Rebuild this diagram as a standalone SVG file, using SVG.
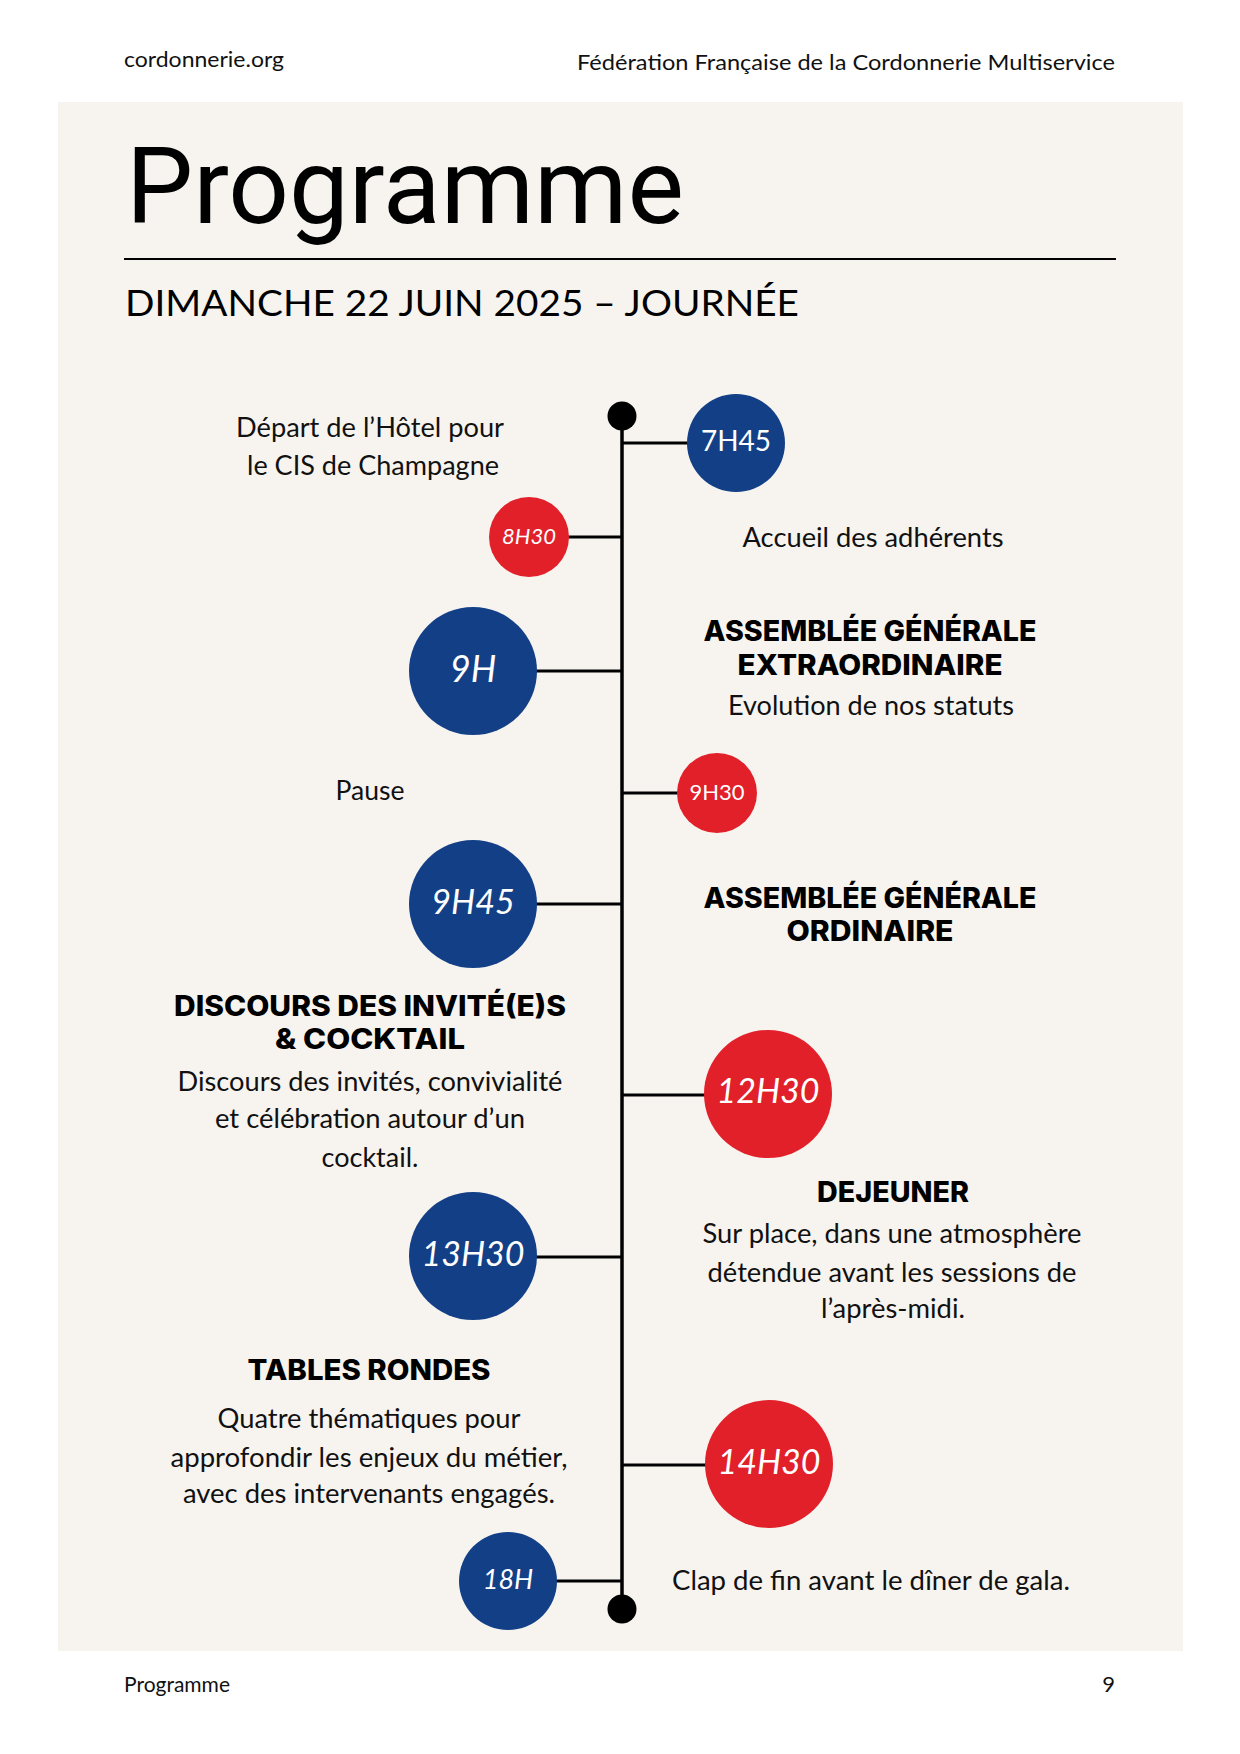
<svg xmlns="http://www.w3.org/2000/svg" width="1240" height="1754" viewBox="0 0 1240 1754">
<style>
.hdr{font-family:Lato,"Liberation Sans",sans-serif;font-size:22px;fill:#111}
.body{font-family:Lato,"Noto Sans",sans-serif;font-size:26px;fill:#111;text-anchor:middle}
.head{font-family:Inter,"Liberation Sans",sans-serif;font-weight:800;font-size:28px;fill:#000;text-anchor:middle}
.t{font-family:Lato,"Noto Sans",sans-serif;fill:#fff;text-anchor:middle}
.it{font-style:italic}
.blue{fill:#133F86}
.red{fill:#E1202A}
.conn line{stroke:#000;stroke-width:3}
</style>
<rect x="0" y="0" width="1240" height="1754" fill="#ffffff"/>
<rect x="58" y="102" width="1125" height="1549" fill="#F7F4F0"/>
<text class="hdr" x="124" y="67" font-size="21" textLength="160" lengthAdjust="spacingAndGlyphs">cordonnerie.org</text>
<text class="hdr" x="1115" y="70" font-size="25" text-anchor="end" textLength="538" lengthAdjust="spacingAndGlyphs">Fédération Française de la Cordonnerie Multiservice</text>
<text x="126" y="223" font-family="Roboto,'Liberation Sans',sans-serif" font-size="106" fill="#000" textLength="558" lengthAdjust="spacingAndGlyphs">Programme</text>
<line x1="124" y1="259" x2="1116" y2="259" stroke="#000" stroke-width="2"/>
<text x="125" y="316" font-family="Lato,'Liberation Sans',sans-serif" font-size="36" fill="#000" textLength="674" lengthAdjust="spacingAndGlyphs">DIMANCHE 22 JUIN 2025 – JOURNÉE</text>
<g id="connectors" class="conn">
<line x1="622" y1="416" x2="622" y2="1609" style="stroke-width:3.5"/>
<line x1="622" y1="443" x2="688" y2="443"/>
<line x1="567" y1="537" x2="622" y2="537"/>
<line x1="535" y1="671" x2="622" y2="671"/>
<line x1="622" y1="793" x2="679" y2="793"/>
<line x1="534" y1="904" x2="622" y2="904"/>
<line x1="622" y1="1095" x2="706" y2="1095"/>
<line x1="535" y1="1257" x2="622" y2="1257"/>
<line x1="622" y1="1465" x2="707" y2="1465"/>
<line x1="555" y1="1581" x2="622" y2="1581"/>
<circle cx="622" cy="416" r="14.5" fill="#000" stroke="none"/>
<circle cx="622" cy="1609" r="14.5" fill="#000" stroke="none"/>
</g>
<g id="n-0745">
<circle class="blue" cx="736" cy="443" r="49"/>
<text class="t" x="736" y="451" font-size="28">7H45</text>
<text class="body" x="370" y="437" textLength="268" lengthAdjust="spacingAndGlyphs">Départ de l’Hôtel pour</text>
<text class="body" x="373" y="475" textLength="252" lengthAdjust="spacingAndGlyphs">le CIS de Champagne</text>
</g>
<g id="n-0830">
<circle class="red" cx="529" cy="537" r="40"/>
<text class="t it" x="529" y="544" font-size="22">8H30</text>
<text class="body" x="873" y="547" textLength="261" lengthAdjust="spacingAndGlyphs">Accueil des adhérents</text>
</g>
<g id="n-0900">
<circle class="blue" cx="473" cy="671" r="64"/>
<text class="t it" x="473" y="682" font-size="36">9H</text>
<text class="head" x="870" y="641" textLength="333" lengthAdjust="spacingAndGlyphs">ASSEMBLÉE GÉNÉRALE</text>
<text class="head" x="870" y="675" textLength="265" lengthAdjust="spacingAndGlyphs">EXTRAORDINAIRE</text>
<text class="body" x="871" y="715" textLength="286" lengthAdjust="spacingAndGlyphs">Evolution de nos statuts</text>
</g>
<g id="n-0930">
<circle class="red" cx="717" cy="793" r="40"/>
<text class="t" x="717" y="800" font-size="22">9H30</text>
<text class="body" x="370" y="800" textLength="69" lengthAdjust="spacingAndGlyphs">Pause</text>
</g>
<g id="n-0945">
<circle class="blue" cx="473" cy="904" r="64"/>
<text class="t it" x="473" y="914" font-size="34">9H45</text>
<text class="head" x="870" y="908" textLength="333" lengthAdjust="spacingAndGlyphs">ASSEMBLÉE GÉNÉRALE</text>
<text class="head" x="870" y="941" textLength="167" lengthAdjust="spacingAndGlyphs">ORDINAIRE</text>
</g>
<g id="n-1230">
<circle class="red" cx="768" cy="1094" r="64"/>
<text class="t it" x="768" y="1103" font-size="34">12H30</text>
<text class="head" x="370" y="1016" textLength="392" lengthAdjust="spacingAndGlyphs">DISCOURS DES INVITÉ(E)S</text>
<text class="head" x="370" y="1049" textLength="190" lengthAdjust="spacingAndGlyphs">&amp; COCKTAIL</text>
<text class="body" x="370" y="1091" textLength="385" lengthAdjust="spacingAndGlyphs">Discours des invités, convivialité</text>
<text class="body" x="370" y="1128" textLength="310" lengthAdjust="spacingAndGlyphs">et célébration autour d’un</text>
<text class="body" x="370" y="1167" textLength="97" lengthAdjust="spacingAndGlyphs">cocktail.</text>
</g>
<g id="n-1330">
<circle class="blue" cx="473" cy="1256" r="64"/>
<text class="t it" x="473" y="1266" font-size="34">13H30</text>
<text class="head" x="893" y="1202" textLength="152" lengthAdjust="spacingAndGlyphs">DEJEUNER</text>
<text class="body" x="892" y="1243" textLength="379" lengthAdjust="spacingAndGlyphs">Sur place, dans une atmosphère</text>
<text class="body" x="892" y="1282" textLength="369" lengthAdjust="spacingAndGlyphs">détendue avant les sessions de</text>
<text class="body" x="893" y="1318" textLength="144" lengthAdjust="spacingAndGlyphs">l’après-midi.</text>
</g>
<g id="n-1430">
<circle class="red" cx="769" cy="1464" r="64"/>
<text class="t it" x="769" y="1474" font-size="34">14H30</text>
<text class="head" x="369" y="1380" textLength="243" lengthAdjust="spacingAndGlyphs">TABLES RONDES</text>
<text class="body" x="369" y="1428" textLength="303" lengthAdjust="spacingAndGlyphs">Quatre thématiques pour</text>
<text class="body" x="369" y="1467" textLength="397" lengthAdjust="spacingAndGlyphs">approfondir les enjeux du métier,</text>
<text class="body" x="369" y="1503" textLength="372" lengthAdjust="spacingAndGlyphs">avec des intervenants engagés.</text>
</g>
<g id="n-1800">
<circle class="blue" cx="508" cy="1581" r="49"/>
<text class="t it" x="508" y="1589" font-size="27">18H</text>
<text class="body" x="871" y="1590" textLength="398" lengthAdjust="spacingAndGlyphs">Clap de fin avant le dîner de gala.</text>
</g>
<text class="hdr" x="124" y="1692" font-size="21" textLength="106" lengthAdjust="spacingAndGlyphs">Programme</text>
<text class="hdr" x="1115" y="1692" font-size="21" text-anchor="end">9</text>
</svg>
